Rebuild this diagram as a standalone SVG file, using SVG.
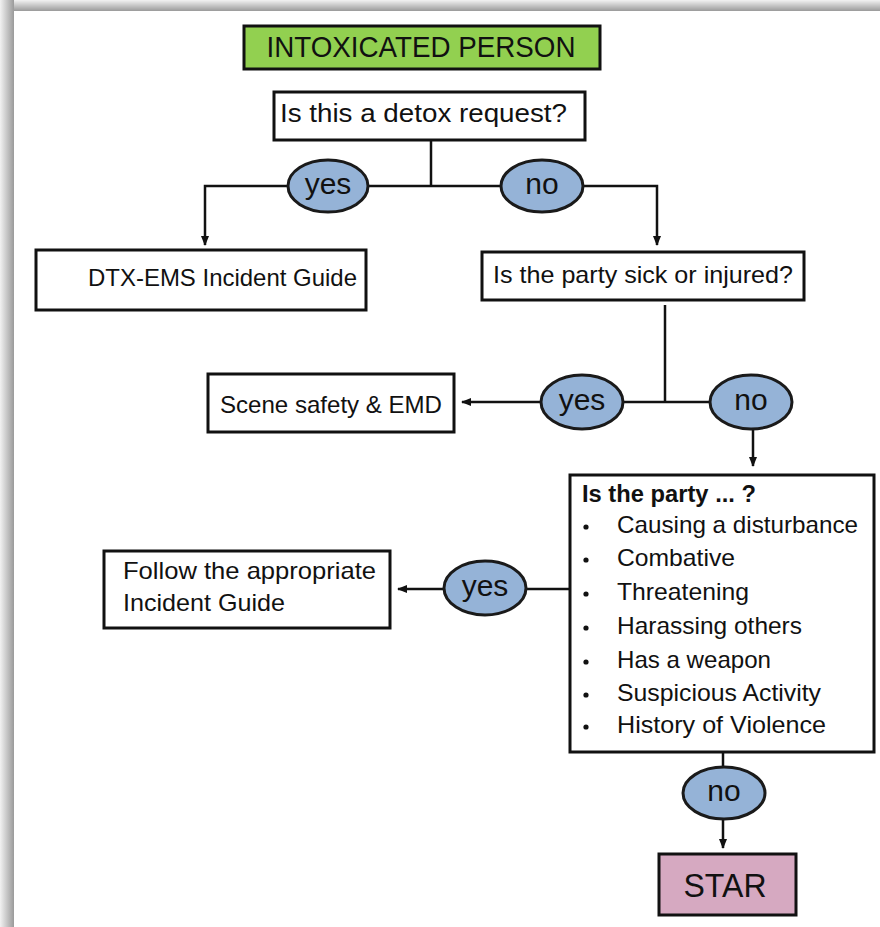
<svg xmlns="http://www.w3.org/2000/svg" width="880" height="927" viewBox="0 0 880 927">
<style>
.box{fill:#fff;stroke:#111;stroke-width:3}
.oval{fill:#95b3d7;stroke:#1a1a1a;stroke-width:3}
.t{font-family:"Liberation Sans",Arial,sans-serif;fill:#111}
.lbl{font-family:"Liberation Sans",Arial,sans-serif;fill:#111;font-size:30px;text-anchor:middle}
.ln{fill:none;stroke:#111;stroke-width:2.5}
</style>
<defs>
<linearGradient id="gTop" x1="0" y1="0" x2="0" y2="1">
<stop offset="0" stop-color="#f2f2f2"/><stop offset="1" stop-color="#9a9a9a"/>
</linearGradient>
<linearGradient id="gLeft" x1="0" y1="0" x2="1" y2="0">
<stop offset="0" stop-color="#f2f2f2"/><stop offset="1" stop-color="#9a9a9a"/>
</linearGradient>
<marker id="arr" markerUnits="userSpaceOnUse" markerWidth="10" markerHeight="10" viewBox="0 0 10 10" refX="9" refY="5" orient="auto">
<path d="M0,1 L10,5 L0,9 Z" fill="#111"/>
</marker>
</defs>
<rect x="0" y="0" width="880" height="927" fill="#fff"/>
<rect x="0" y="0" width="880" height="11" fill="url(#gTop)"/>
<rect x="0" y="0" width="14" height="927" fill="url(#gLeft)"/>

<g id="connectors">
<path class="ln" d="M431,140 V186"/>
<path class="ln" d="M431,186 H205 V245" marker-end="url(#arr)"/>
<path class="ln" d="M431,186 H657 V245" marker-end="url(#arr)"/>
<path class="ln" d="M665,305 V402"/>
<path class="ln" d="M665,402 H462" marker-end="url(#arr)"/>
<path class="ln" d="M665,402 H751"/>
<path class="ln" d="M753,428 V466" marker-end="url(#arr)"/>
<path class="ln" d="M569,589 H398" marker-end="url(#arr)"/>
<path class="ln" d="M723,752 V770"/>
<path class="ln" d="M723,816 V848" marker-end="url(#arr)"/>
</g>

<g id="title">
<rect x="244" y="26" width="356" height="43" fill="#92d050" stroke="#111" stroke-width="3"/>
<text class="t" x="421" y="57" font-size="29" text-anchor="middle" textLength="309" lengthAdjust="spacingAndGlyphs">INTOXICATED PERSON</text>
</g>

<g id="detox">
<rect class="box" x="274" y="92" width="311" height="48"/>
<text class="t" x="280" y="122" font-size="26" textLength="287" lengthAdjust="spacingAndGlyphs">Is this a detox request?</text>
</g>

<g id="yes1">
<ellipse class="oval" cx="328" cy="186" rx="40" ry="26"/>
<text class="lbl" x="328" y="194">yes</text>
</g>
<g id="no1">
<ellipse class="oval" cx="542" cy="186" rx="41" ry="26"/>
<text class="lbl" x="542" y="194">no</text>
</g>

<g id="dtx">
<rect class="box" x="36" y="250" width="330" height="60"/>
<text class="t" x="88" y="286" font-size="24" textLength="269" lengthAdjust="spacingAndGlyphs">DTX-EMS Incident Guide</text>
</g>

<g id="sick">
<rect class="box" x="482" y="252" width="322" height="48"/>
<text class="t" x="493" y="283" font-size="24" textLength="300" lengthAdjust="spacingAndGlyphs">Is the party sick or injured?</text>
</g>

<g id="scene">
<rect class="box" x="208" y="374" width="246" height="58"/>
<text class="t" x="220" y="413" font-size="24" textLength="222" lengthAdjust="spacingAndGlyphs">Scene safety &amp; EMD</text>
</g>

<g id="yes2">
<ellipse class="oval" cx="582" cy="402" rx="41" ry="27"/>
<text class="lbl" x="582" y="410">yes</text>
</g>
<g id="no2">
<ellipse class="oval" cx="751" cy="402" rx="41" ry="27"/>
<text class="lbl" x="751" y="410">no</text>
</g>

<g id="party">
<rect class="box" x="570" y="475" width="304" height="277"/>
<text class="t" x="582" y="502" font-size="23" font-weight="bold" textLength="174" lengthAdjust="spacingAndGlyphs">Is the party ... ?</text>
<g fill="#111">
<circle cx="586" cy="527" r="2.6"/>
<circle cx="586" cy="560" r="2.6"/>
<circle cx="586" cy="594" r="2.6"/>
<circle cx="586" cy="628" r="2.6"/>
<circle cx="586" cy="662" r="2.6"/>
<circle cx="586" cy="695" r="2.6"/>
<circle cx="586" cy="727" r="2.6"/>
</g>
<text class="t" x="617" y="533" font-size="24" textLength="241" lengthAdjust="spacingAndGlyphs">Causing a disturbance</text>
<text class="t" x="617" y="566" font-size="24" textLength="118" lengthAdjust="spacingAndGlyphs">Combative</text>
<text class="t" x="617" y="600" font-size="24" textLength="132" lengthAdjust="spacingAndGlyphs">Threatening</text>
<text class="t" x="617" y="634" font-size="24" textLength="185" lengthAdjust="spacingAndGlyphs">Harassing others</text>
<text class="t" x="617" y="668" font-size="24" textLength="154" lengthAdjust="spacingAndGlyphs">Has a weapon</text>
<text class="t" x="617" y="701" font-size="24" textLength="204" lengthAdjust="spacingAndGlyphs">Suspicious Activity</text>
<text class="t" x="617" y="733" font-size="24" textLength="209" lengthAdjust="spacingAndGlyphs">History of Violence</text>
</g>

<g id="yes3">
<ellipse class="oval" cx="485" cy="588" rx="41" ry="27"/>
<text class="lbl" x="485" y="596">yes</text>
</g>

<g id="follow">
<rect class="box" x="104" y="551" width="286" height="77"/>
<text class="t" x="123" y="579" font-size="24" textLength="253" lengthAdjust="spacingAndGlyphs">Follow the appropriate</text>
<text class="t" x="123" y="611" font-size="24" textLength="162" lengthAdjust="spacingAndGlyphs">Incident Guide</text>
</g>

<g id="no3">
<ellipse class="oval" cx="724" cy="793" rx="41" ry="26"/>
<text class="lbl" x="724" y="801">no</text>
</g>

<g id="star">
<rect x="659" y="854" width="137" height="61" fill="#d6a9c1" stroke="#111" stroke-width="3"/>
<text class="t" x="725" y="897" font-size="33" text-anchor="middle" textLength="83" lengthAdjust="spacingAndGlyphs">STAR</text>
</g>
</svg>
